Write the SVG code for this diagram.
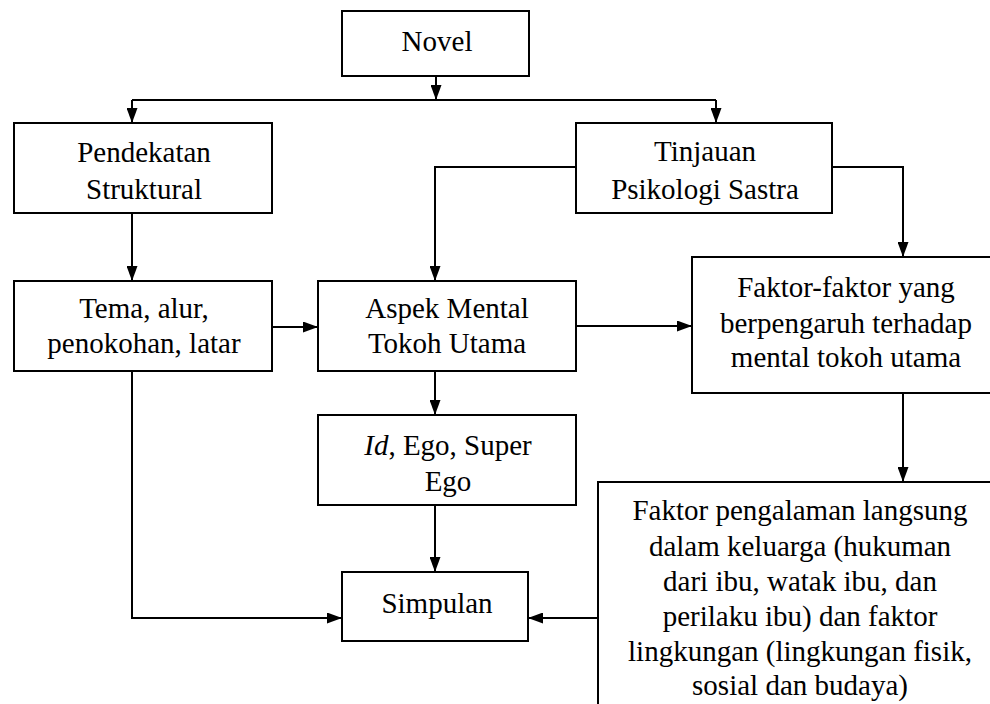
<svg xmlns="http://www.w3.org/2000/svg" width="990" height="704" viewBox="0 0 990 704">
<style>
.box{fill:#fff;stroke:#000;stroke-width:2}
.t{font-family:'Liberation Serif','DejaVu Serif',serif;font-size:29px;fill:#000;text-anchor:middle}
.c{fill:none;stroke:#000;stroke-width:2}
</style>
<defs>
<marker id="ah" markerUnits="userSpaceOnUse" markerWidth="15" markerHeight="11" refX="15" refY="5.5" orient="auto">
<path d="M0,0 L15,5.5 L0,11 z" fill="#000"/>
</marker>
</defs>
<rect width="990" height="704" fill="#fff"/>
<g id="connectors">
<path class="c" d="M436,76 V100" marker-end="url(#ah)"/>
<path class="c" d="M132,100 H716"/>
<path class="c" d="M132,100 V123" marker-end="url(#ah)"/>
<path class="c" d="M716,100 V123" marker-end="url(#ah)"/>
<path class="c" d="M132,213 V281" marker-end="url(#ah)"/>
<path class="c" d="M576,167 H435 V281" marker-end="url(#ah)"/>
<path class="c" d="M832,167 H903 V257" marker-end="url(#ah)"/>
<path class="c" d="M272,327 H318" marker-end="url(#ah)"/>
<path class="c" d="M576,326 H692" marker-end="url(#ah)"/>
<path class="c" d="M435,371 V415" marker-end="url(#ah)"/>
<path class="c" d="M435,505 V572" marker-end="url(#ah)"/>
<path class="c" d="M132,371 V618 H342" marker-end="url(#ah)"/>
<path class="c" d="M903,393 V482" marker-end="url(#ah)"/>
<path class="c" d="M598,618 H528" marker-end="url(#ah)"/>
</g>
<g id="novel">
<rect class="box" x="342" y="11" width="187" height="65"/>
<text class="t" x="437" y="51">Novel</text>
</g>
<g id="pendekatan">
<rect class="box" x="14" y="123" width="258" height="90"/>
<text class="t" x="144" y="162">Pendekatan</text>
<text class="t" x="144" y="199">Struktural</text>
</g>
<g id="tinjauan">
<rect class="box" x="576" y="123" width="256" height="90"/>
<text class="t" x="705" y="161">Tinjauan</text>
<text class="t" x="705" y="199">Psikologi Sastra</text>
</g>
<g id="tema">
<rect class="box" x="14" y="281" width="258" height="90"/>
<text class="t" x="144" y="318">Tema, alur,</text>
<text class="t" x="144" y="353">penokohan, latar</text>
</g>
<g id="aspek">
<rect class="box" x="318" y="281" width="258" height="90"/>
<text class="t" x="447" y="318">Aspek Mental</text>
<text class="t" x="447" y="353">Tokoh Utama</text>
</g>
<g id="faktor">
<rect class="box" x="692" y="257" width="320" height="136"/>
<text class="t" x="846" y="297">Faktor-faktor yang</text>
<text class="t" x="846" y="333">berpengaruh terhadap</text>
<text class="t" x="846" y="367">mental tokoh utama</text>
</g>
<g id="idego">
<rect class="box" x="318" y="415" width="258" height="90"/>
<text class="t" x="448" y="455"><tspan font-style="italic">Id</tspan>, Ego, Super</text>
<text class="t" x="448" y="491">Ego</text>
</g>
<g id="simpulan">
<rect class="box" x="342" y="572" width="186" height="69"/>
<text class="t" x="437" y="613">Simpulan</text>
</g>
<g id="faktor2">
<rect class="box" x="598" y="482" width="420" height="260"/>
<text class="t" x="800" y="520">Faktor pengalaman langsung</text>
<text class="t" x="800" y="556">dalam keluarga (hukuman</text>
<text class="t" x="800" y="591">dari ibu, watak ibu, dan</text>
<text class="t" x="800" y="626">perilaku ibu) dan faktor</text>
<text class="t" x="800" y="661">lingkungan (lingkungan fisik,</text>
<text class="t" x="800" y="695">sosial dan budaya)</text>
</g>
</svg>
